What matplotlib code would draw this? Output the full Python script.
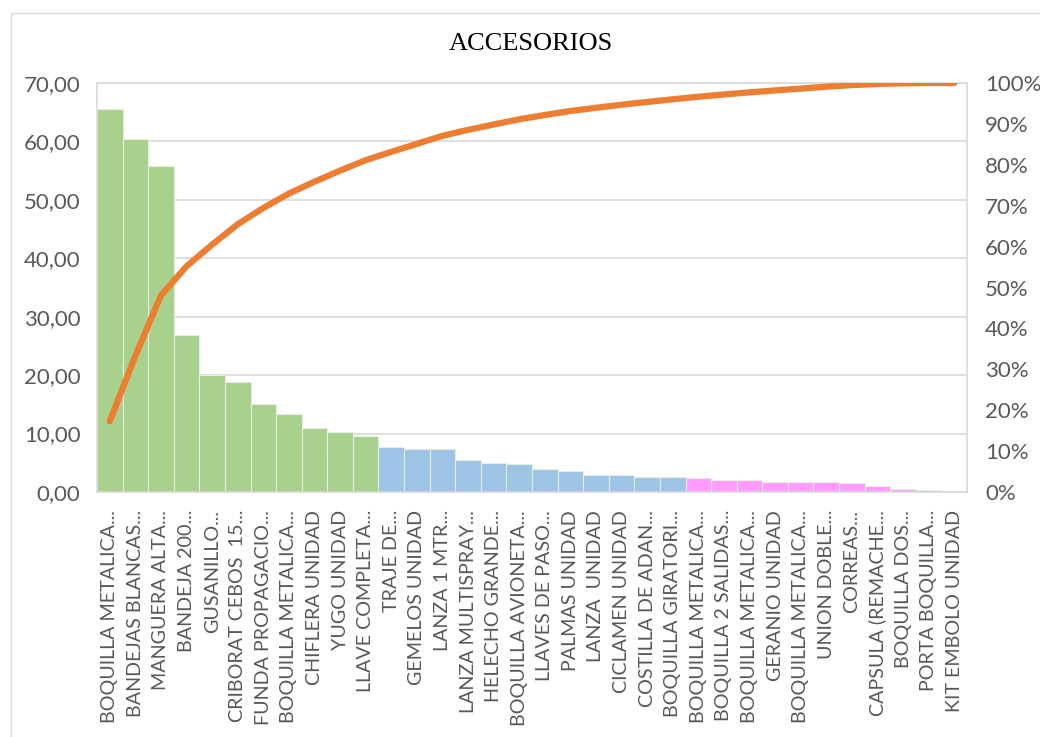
import numpy as np
import matplotlib.pyplot as plt
from matplotlib.patches import Rectangle
from matplotlib.ticker import FuncFormatter, MultipleLocator

# ---- Data ----
articulos = [
    "BOQUILLA METALICA...", "BANDEJAS BLANCAS...", "MANGUERA ALTA...",
    "BANDEJA 200...", "GUSANILLO...", "CRIBORAT CEBOS  15...",
    "FUNDA PROPAGACIO...", "BOQUILLA METALICA...", "CHIFLERA UNIDAD",
    "YUGO UNIDAD", "LLAVE COMPLETA...", "TRAJE DE...", "GEMELOS UNIDAD",
    "LANZA 1 MTR...", "LANZA MULTISPRAY...", "HELECHO GRANDE...",
    "BOQUILLA AVIONETA...", "LLAVES DE PASO...", "PALMAS UNIDAD",
    "LANZA  UNIDAD", "CICLAMEN UNIDAD", "COSTILLA DE ADAN...",
    "BOQUILLA GIRATORI...", "BOQUILLA METALICA...", "BOQUILLA 2 SALIDAS...",
    "BOQUILLA METALICA...", "GERANIO UNIDAD", "BOQUILLA METALICA...",
    "UNION DOBLE...", "CORREAS...", "CAPSULA (REMACHE...",
    "BOQUILLA DOS...", "PORTA BOQUILLA...", "KIT EMBOLO UNIDAD",
]

valores = [
    65.5, 60.5, 55.8, 26.9, 20.1, 18.75, 15.1, 13.3, 11.0, 10.2, 9.66,
    7.67, 7.43, 7.43, 5.49, 4.97, 4.8, 4.0, 3.65, 2.97, 2.86, 2.52, 2.52,
    2.35, 2.06, 2.0, 1.77, 1.71, 1.71, 1.49, 1.08, 0.57, 0.29, 0.02,
]

clase = ["A"] * 11 + ["B"] * 12 + ["C"] * 9 + ["B", "B"]

colores_clase = {"A": "#A9D18E", "B": "#9DC3E6", "C": "#FF9BFF"}

# ---- Derived series ----
valores = np.array(valores)
acumulado = np.cumsum(valores) / valores.sum() * 100
x = np.arange(len(valores))

# ---- Figure ----
plt.rcParams['font.family'] = ['Lato', 'DejaVu Sans']
fig = plt.figure(figsize=(10.4, 7.37), dpi=100)

# outer chart border (Excel chart area)
fig.patches.append(Rectangle((11 / 1040, -0.01), 1.1, (737 - 13) / 737 + 0.01,
                             transform=fig.transFigure, fill=False,
                             edgecolor='#D9D9D9', linewidth=1.0))

ax = fig.add_axes([97 / 1040, 1 - 492 / 737, (967 - 97) / 1040, (492 - 83) / 737])

ax.bar(x, valores, width=1.0, color=[colores_clase[c] for c in clase],
       edgecolor='#E6EFDF', linewidth=0.8, zorder=2)

ax.set_xlim(-0.5, len(valores) - 0.5)
ax.set_ylim(0, 70)
ax.yaxis.set_major_locator(MultipleLocator(10))
ax.yaxis.set_major_formatter(FuncFormatter(lambda v, p: f"{v:.2f}".replace(".", ",")))
ax.grid(axis='y', color='#D9D9D9', linewidth=1.2, zorder=0)
ax.set_axisbelow(True)

ax.set_xticks(x)
ax.set_xticklabels(articulos, rotation=90, fontsize=14.2, color='#595959')
ax.tick_params(axis='x', length=0, pad=13)
ax.tick_params(axis='y', length=0, labelsize=16, colors='#595959', pad=12)

for s in ax.spines.values():
    s.set_color('#D9D9D9')
    s.set_linewidth(1.2)

# cumulative line on secondary axis
ax2 = ax.twinx()
ax2.plot(x, acumulado, color='#ED7D31', linewidth=4.5,
         solid_capstyle='round', zorder=5)
ax2.set_ylim(0, 100)
ax2.yaxis.set_major_locator(MultipleLocator(10))
ax2.yaxis.set_major_formatter(FuncFormatter(lambda v, p: f"{v:.0f}%"))
ax2.tick_params(axis='y', length=0, labelsize=16, colors='#595959', pad=13)
for s in ax2.spines.values():
    s.set_visible(False)

fig.text(531 / 1040, 1 - 44 / 737, "ACCESORIOS", ha='center', va='center',
         fontsize=19, family='Liberation Serif', color='#000000')

fig.savefig('out.png', dpi=100)
